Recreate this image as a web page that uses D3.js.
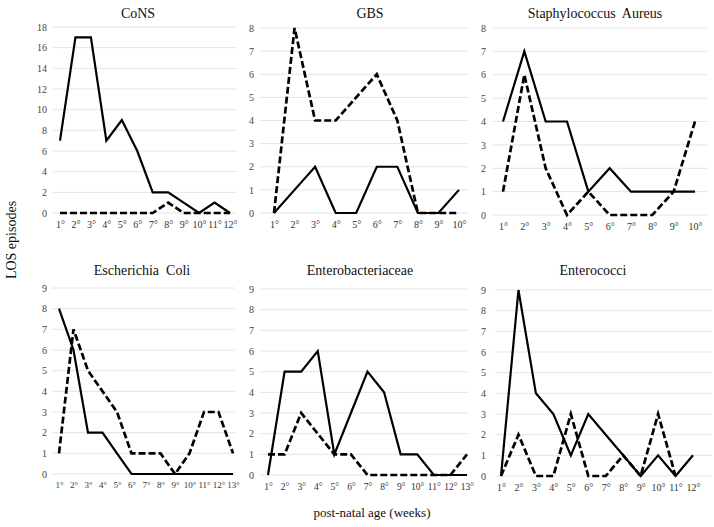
<!DOCTYPE html>
<html>
<head>
<meta charset="utf-8">
<script src="https://cdn.jsdelivr.net/npm/d3@7"></script>
<style>
body { margin: 0; background: #fff; }
svg text { font-family: "Liberation Serif", "Times New Roman", serif !important; }
</style>
</head>
<body>
<svg id="chart" width="714" height="527"></svg>
<script>
// ---- data ----
const titles = ["CoNS", "GBS", "Staphylococcus  Aureus", "Escherichia  Coli", "Enterobacteriaceae", "Enterococci"];
const weeks10 = ["1°","2°","3°","4°","5°","6°","7°","8°","9°","10°"];
const weeks12 = ["1°","2°","3°","4°","5°","6°","7°","8°","9°","10°","11°","12°"];
const weeks13 = ["1°","2°","3°","4°","5°","6°","7°","8°","9°","10°","11°","12°","13°"];

const consSolid   = [7,17,17,7,9,6,2,2,1,0,1,0];
const consDashed  = [0,0,0,0,0,0,0,1,0,0,0,0];
const gbsSolid    = [0,1,2,0,0,2,2,0,0,1];
const gbsDashed   = [0,8,4,4,5,6,4,0,0,0];
const staphSolid  = [4,7,4,4,1,2,1,1,1,1];
const staphDashed = [1,6,2,0,1,0,0,0,1,4];
const coliSolid   = [8,6,2,2,1,0,0,0,0,0,0,0,0];
const coliDashed  = [1,7,5,4,3,1,1,1,0,1,3,3,1];
const enterobSolid  = [0,5,5,6,1,3,5,4,1,1,0,0,0];
const enterobDashed = [1,1,3,2,1,1,0,0,0,0,0,0,1];
const enterocSolid  = [0,9,4,3,1,3,2,1,0,1,0,1];
const enterocDashed = [0,2,0,0,3,0,0,1,0,3,0];

const yMaxes = [18, 8, 8, 9, 9, 9];
const yStepTicks = [2, 1, 1, 1, 1, 1];

// ---- layout (pixel geometry, separate from data) ----
const layout = [
  {x0:60,  x1:230, y0:213, y1:27,  g0:53,  g1:237, lab:47,  titleX:138, titleY:18, xfs:10},
  {x0:274, x1:459, y0:213, y1:28,  g0:260, g1:468, lab:254, titleX:370, titleY:18, xfs:10},
  {x0:503, x1:695, y0:215, y1:28,  g0:493, g1:707, lab:486, titleX:595, titleY:18, xfs:10},
  {x0:59,  x1:233, y0:474, y1:288, g0:52,  g1:235, lab:47,  titleX:142, titleY:275, xfs:9},
  {x0:268, x1:467, y0:475, y1:289, g0:260, g1:468, lab:254, titleX:360, titleY:275, xfs:9.5},
  {x0:501, x1:693, y0:476, y1:290, g0:495, g1:712, lab:486, titleX:593, titleY:275, xfs:10}
];

const panels = [
  {cats: weeks12, solid: consSolid,    dashed: consDashed},
  {cats: weeks10, solid: gbsSolid,     dashed: gbsDashed},
  {cats: weeks10, solid: staphSolid,   dashed: staphDashed},
  {cats: weeks13, solid: coliSolid,    dashed: coliDashed},
  {cats: weeks13, solid: enterobSolid, dashed: enterobDashed},
  {cats: weeks12, solid: enterocSolid, dashed: enterocDashed}
];

const svg = d3.select("#chart");

panels.forEach((p, i) => {
  const L = layout[i];
  const g = svg.append("g");
  const x = d3.scalePoint().domain(p.cats).range([L.x0, L.x1]);
  const y = d3.scaleLinear().domain([0, yMaxes[i]]).range([L.y0, L.y1]);
  const ticks = d3.range(0, yMaxes[i] + 0.001, yStepTicks[i]);

  // gridlines
  g.selectAll("line.grid").data(ticks).enter().append("line")
    .attr("x1", L.g0).attr("x2", L.g1)
    .attr("y1", d => y(d)).attr("y2", d => y(d))
    .attr("stroke", "#e4e4e4").attr("stroke-width", 1);

  // y axis labels
  const yAxis = d3.axisLeft(y).tickValues(ticks).tickSize(0).tickPadding(0);
  const ya = g.append("g").attr("transform", `translate(${L.lab},0)`).call(yAxis);
  ya.select(".domain").remove();
  ya.selectAll("text").attr("font-size", 10).attr("fill", "#444");

  // x axis labels
  const xAxis = d3.axisBottom(x).tickSize(0).tickPadding(0);
  const xa = g.append("g").attr("transform", `translate(0,${L.y0 + 8})`).call(xAxis);
  xa.select(".domain").remove();
  xa.selectAll("text").attr("font-size", L.xfs).attr("fill", "#333");

  const line = d3.line().x((d, k) => x(p.cats[k])).y(d => y(d));

  g.append("path").datum(p.solid).attr("d", line)
    .attr("fill", "none").attr("stroke", "#000").attr("stroke-width", 2.2)
    .attr("stroke-linejoin", "miter");
  g.append("path").datum(p.dashed).attr("d", line)
    .attr("fill", "none").attr("stroke", "#000").attr("stroke-width", 2.7)
    .attr("stroke-dasharray", "7,3");

  g.append("text").attr("x", L.titleX).attr("y", L.titleY)
    .attr("text-anchor", "middle").attr("font-size", 14).attr("fill", "#111")
    .style("white-space", "pre").text(titles[i]);
});

svg.append("text").attr("transform", "translate(16,240) rotate(-90)")
  .attr("text-anchor", "middle").attr("font-size", 14).attr("fill", "#111")
  .text("LOS episodes");
svg.append("text").attr("x", 372).attr("y", 517)
  .attr("text-anchor", "middle").attr("font-size", 13).attr("fill", "#111")
  .text("post-natal age (weeks)");
</script>
</body>
</html>
